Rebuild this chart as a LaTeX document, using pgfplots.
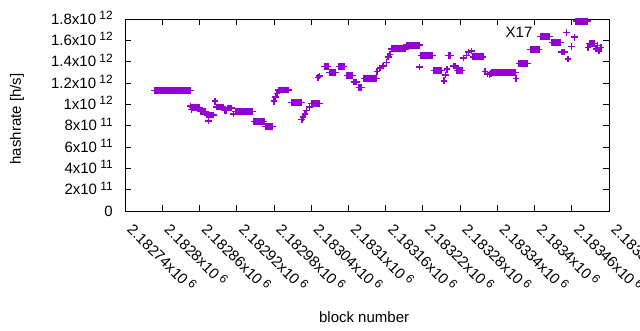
\documentclass[border=0pt]{standalone}
\usepackage{pgfplots}
\pgfplotsset{compat=1.18}
\usepackage{fontspec}
\setmainfont{Liberation Sans}
\newcommand{\ex}[1]{\hspace{0.22em}\raisebox{4.5bp}{\fontsize{12bp}{12bp}\selectfont #1}}
\definecolor{gpviolet}{RGB}{148,0,211}
\begin{document}
\begin{tikzpicture}[font=\fontsize{15bp}{18bp}\selectfont]
\begin{axis}[name=ax, scale only axis, width=484bp, height=192bp,
  xmin=0, xmax=780, ymin=0, ymax=1.8e12,
  scaled x ticks=false, scaled y ticks=false,
  xtick={0,60,...,780},
  xticklabels={2.18274x10\ex{6},2.1828x10\ex{6},2.18286x10\ex{6},2.18292x10\ex{6},2.18298x10\ex{6},2.18304x10\ex{6},2.1831x10\ex{6},2.18316x10\ex{6},2.18322x10\ex{6},2.18328x10\ex{6},2.18334x10\ex{6},2.1834x10\ex{6},2.18346x10\ex{6},2.18352x10\ex{6}},
  ytick={0,2e11,4e11,6e11,8e11,1e12,1.2e12,1.4e12,1.6e12,1.8e12},
  yticklabels={0,2x10\ex{11},4x10\ex{11},6x10\ex{11},8x10\ex{11},1x10\ex{12},1.2x10\ex{12},1.4x10\ex{12},1.6x10\ex{12},1.8x10\ex{12}},
  xticklabel style={anchor=north west, inner sep=0pt, xshift=10.5bp, yshift=-10bp, rotate=-45},
  yticklabel style={anchor=base east, inner sep=0pt, xshift=-12bp, yshift=-5bp},
  tick align=inside, major tick length=6bp,
  tick style={black, line width=0.8bp},
  axis line style={black, line width=0.9bp},
  xlabel={block number}, ylabel={hashrate [h/s]},
  xlabel style={at={(axis description cs:0.494,-0.552)}, anchor=center},
  ylabel style={at={(axis description cs:-0.223,0.479)}, anchor=center},
  clip=false,
]
\addplot[only marks, mark=+, mark size=3.4bp, gpviolet, mark options={line width=1.3bp}] coordinates {
(47,1.13e12)(49,1.13e12)(51,1.13e12)(53,1.13e12)(55,1.13e12)(57,1.13e12)(59,1.13e12)(61,1.13e12)(63,1.13e12)(65,1.13e12)(67,1.13e12)(69,1.13e12)(71,1.13e12)(73,1.13e12)(75,1.13e12)(77,1.13e12)(79,1.13e12)(81,1.13e12)(83,1.13e12)(85,1.13e12)(87,1.13e12)(89,1.13e12)(91,1.13e12)(93,1.13e12)(95,1.13e12)(97,1.13e12)(99,1.13e12)(101,1.13e12)(103,1.13e12)(105,1.13e12)
(106,0.985e12)(107,0.95e12)
(108,0.97e12)(110,0.97e12)(112,0.97e12)(114,0.97e12)(116,0.97e12)(118,0.97e12)(120,0.97e12)
(122,0.93e12)(124,0.93e12)(126,0.93e12)(128,0.93e12)(130,0.93e12)
(132,0.90e12)(134,0.90e12)(136,0.90e12)(138,0.90e12)(140,0.90e12)(142,0.90e12)
(134,0.845e12)(145,1.03e12)
(148,0.975e12)(150,0.975e12)(152,0.975e12)(154,0.975e12)(156,0.975e12)(158,0.975e12)
(160,0.94e12)(162,0.94e12)(164,0.94e12)
(166,0.965e12)(168,0.965e12)(170,0.965e12)(172,0.965e12)
(175,0.91e12)
(178,0.93e12)(180,0.93e12)(182,0.93e12)(184,0.93e12)(186,0.93e12)(188,0.93e12)(190,0.93e12)(192,0.93e12)(194,0.93e12)(196,0.93e12)(198,0.93e12)(200,0.93e12)(202,0.93e12)(204,0.93e12)(206,0.93e12)
(208,0.84e12)(210,0.84e12)(212,0.84e12)(214,0.84e12)(216,0.84e12)(218,0.84e12)(220,0.84e12)(222,0.84e12)(224,0.84e12)
(226,0.79e12)(228,0.79e12)(230,0.79e12)(232,0.79e12)(234,0.79e12)(236,0.79e12)(238,0.79e12)
(240,1.03e12)(242,1.07e12)(245,1.10e12)
(248,1.135e12)(250,1.135e12)(252,1.135e12)(254,1.135e12)(256,1.135e12)(258,1.135e12)(260,1.135e12)(262,1.135e12)(264,1.135e12)
(268,1.02e12)(270,1.02e12)(272,1.02e12)(274,1.02e12)(276,1.02e12)(278,1.02e12)(280,1.02e12)(282,1.02e12)(284,1.02e12)
(285,0.855e12)(287,0.88e12)(290,0.91e12)(293,0.94e12)(297,0.975e12)
(300,1.005e12)(302,1.005e12)(304,1.005e12)(306,1.005e12)(308,1.005e12)(310,1.005e12)(312,1.005e12)(314,1.005e12)
(311,1.25e12)(314,1.265e12)
(321,1.355e12)(323,1.355e12)(325,1.355e12)(327,1.355e12)
(329,1.30e12)(331,1.30e12)(333,1.30e12)(335,1.30e12)(337,1.30e12)(339,1.30e12)
(345,1.355e12)(347,1.355e12)(349,1.355e12)(351,1.355e12)(353,1.355e12)
(358,1.27e12)(360,1.27e12)(362,1.27e12)(364,1.27e12)(366,1.27e12)
(369,1.21e12)(371,1.21e12)(373,1.21e12)
(377,1.155e12)(379,1.155e12)(381,1.155e12)
(385,1.245e12)(387,1.245e12)(389,1.245e12)(391,1.245e12)(393,1.245e12)(395,1.245e12)(397,1.245e12)(399,1.245e12)(401,1.245e12)(403,1.245e12)(405,1.245e12)
(406,1.31e12)(411,1.34e12)(416,1.36e12)(421,1.39e12)(424,1.445e12)(427,1.47e12)
(430,1.52e12)(432,1.52e12)(434,1.52e12)(436,1.52e12)(438,1.52e12)(440,1.52e12)(442,1.52e12)(444,1.52e12)(446,1.52e12)(448,1.52e12)(450,1.52e12)(452,1.52e12)
(454,1.555e12)(456,1.555e12)(458,1.555e12)(460,1.555e12)(462,1.555e12)(464,1.555e12)(466,1.555e12)(468,1.555e12)(470,1.555e12)(472,1.555e12)(474,1.555e12)
(475,1.35e12)
(477,1.455e12)(479,1.455e12)(481,1.455e12)(483,1.455e12)(485,1.455e12)(487,1.455e12)(489,1.455e12)(491,1.455e12)(493,1.455e12)(495,1.455e12)
(498,1.32e12)(500,1.32e12)(502,1.32e12)(504,1.32e12)(506,1.32e12)(508,1.32e12)(510,1.32e12)
(514,1.22e12)(517,1.275e12)(519,1.33e12)
(521,1.46e12)(523,1.46e12)(525,1.46e12)
(529,1.36e12)(531,1.36e12)(533,1.36e12)
(535,1.32e12)(537,1.32e12)(539,1.32e12)(541,1.32e12)(543,1.32e12)
(545,1.435e12)(550,1.46e12)(553,1.49e12)(558,1.50e12)
(561,1.445e12)(563,1.445e12)(565,1.445e12)(567,1.445e12)(569,1.445e12)(571,1.445e12)(573,1.445e12)(575,1.445e12)(577,1.445e12)
(580,1.31e12)(584,1.285e12)(587,1.28e12)(590,1.29e12)
(591,1.30e12)(593,1.30e12)(595,1.30e12)(597,1.30e12)(599,1.30e12)(601,1.30e12)(603,1.30e12)(605,1.30e12)(607,1.30e12)(609,1.30e12)(611,1.30e12)(613,1.30e12)(615,1.30e12)(617,1.30e12)(619,1.30e12)(621,1.30e12)(623,1.30e12)(625,1.30e12)(627,1.30e12)(629,1.30e12)
(630,1.245e12)
(635,1.38e12)(637,1.38e12)(639,1.38e12)(641,1.38e12)(643,1.38e12)(645,1.38e12)(647,1.38e12)(649,1.38e12)
(653,1.515e12)(655,1.515e12)(657,1.515e12)(659,1.515e12)(661,1.515e12)(663,1.515e12)(665,1.515e12)(667,1.515e12)
(670,1.635e12)(672,1.635e12)(674,1.635e12)(676,1.635e12)(678,1.635e12)(680,1.635e12)(682,1.635e12)(684,1.635e12)
(688,1.58e12)(690,1.58e12)(692,1.58e12)(694,1.58e12)(696,1.58e12)(698,1.58e12)(700,1.58e12)(702,1.58e12)
(704,1.49e12)(706,1.49e12)(708,1.49e12)
(712,1.675e12)(714,1.425e12)(719,1.545e12)(724,1.63e12)
(727,1.78e12)(729,1.78e12)(731,1.78e12)(733,1.78e12)(735,1.78e12)(737,1.78e12)(739,1.78e12)(741,1.78e12)(743,1.78e12)(745,1.78e12)
(746,1.535e12)
(748,1.57e12)(750,1.57e12)(752,1.57e12)(754,1.57e12)(756,1.57e12)
(759,1.52e12)(762,1.55e12)(764,1.50e12)(767,1.53e12)
};
\node[anchor=center] at (axis cs:635,1.675e12) {X17};
\end{axis}
\pgfresetboundingbox
\path[use as bounding box] ([shift={(-125bp,-119bp)}]ax.south west) rectangle ([shift={(31bp,19bp)}]ax.north east);
\end{tikzpicture}
\end{document}
